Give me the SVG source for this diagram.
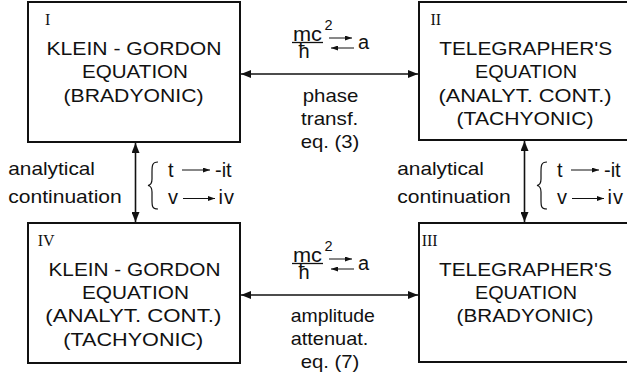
<svg xmlns="http://www.w3.org/2000/svg" width="627" height="381" viewBox="0 0 627 381">
<defs>
<style>
.box{fill:#fff;stroke:#111;stroke-width:2}
.t{font-family:"Liberation Sans",Arial,Helvetica,sans-serif;font-size:17.5px;fill:#111;text-anchor:middle}
.l{font-family:"Liberation Sans",Arial,Helvetica,sans-serif;font-size:18.5px;fill:#111}
.m{font-size:20px}
.c{text-anchor:middle}
.sup{font-size:14.5px}
.rn{font-family:"Liberation Serif","Times New Roman",serif;font-size:16px;fill:#111}
.conn{stroke:#111;stroke-width:1.6;fill:none}
.thin{stroke:#111;stroke-width:1;fill:none}
.bar{stroke:#111;stroke-width:1.3}
.brace{stroke:#111;stroke-width:1.2;fill:none}
</style>
<marker id="ah" viewBox="0 0 10 8" refX="10" refY="4" markerWidth="10" markerHeight="8" markerUnits="userSpaceOnUse" orient="auto-start-reverse"><path d="M0,0 L10,4 L0,8 z" fill="#111"/></marker>
<marker id="sa" viewBox="0 0 7 5" refX="7" refY="2.5" markerWidth="7" markerHeight="5" markerUnits="userSpaceOnUse" orient="auto"><path d="M0,0 L7,2.5 L0,5 z" fill="#111"/></marker>
</defs>
<rect width="627" height="381" fill="#fff"/>

<g id="node-I">
<rect class="box" x="28" y="2" width="212" height="140"/>
<text class="rn" x="45" y="25">I</text>
<text class="t" x="134" y="55" textLength="175" lengthAdjust="spacingAndGlyphs">KLEIN - GORDON</text>
<text class="t" x="135" y="78" textLength="106" lengthAdjust="spacingAndGlyphs">EQUATION</text>
<text class="t" x="133.5" y="101.5" textLength="140" lengthAdjust="spacingAndGlyphs">(BRADYONIC)</text>
</g>

<g id="node-II">
<rect class="box" x="419" y="2" width="214" height="138"/>
<text class="rn" x="430.5" y="25">II</text>
<text class="t" x="525.7" y="54.5" textLength="173" lengthAdjust="spacingAndGlyphs">TELEGRAPHER'S</text>
<text class="t" x="526" y="78" textLength="102" lengthAdjust="spacingAndGlyphs">EQUATION</text>
<text class="t" x="525" y="101.5" textLength="173" lengthAdjust="spacingAndGlyphs">(ANALYT. CONT.)</text>
<text class="t" x="525" y="125" textLength="137" lengthAdjust="spacingAndGlyphs">(TACHYONIC)</text>
</g>

<g id="node-IV">
<rect class="box" x="28" y="223" width="212" height="140"/>
<text class="rn" x="37.7" y="245.7">IV</text>
<text class="t" x="134.5" y="275.7" textLength="172" lengthAdjust="spacingAndGlyphs">KLEIN - GORDON</text>
<text class="t" x="135.5" y="299" textLength="107" lengthAdjust="spacingAndGlyphs">EQUATION</text>
<text class="t" x="133.3" y="322.3" textLength="176" lengthAdjust="spacingAndGlyphs">(ANALYT. CONT.)</text>
<text class="t" x="133.3" y="345.7" textLength="140" lengthAdjust="spacingAndGlyphs">(TACHYONIC)</text>
</g>

<g id="node-III">
<rect class="box" x="419" y="223" width="214" height="139"/>
<text class="rn" x="421.7" y="245.7">III</text>
<text class="t" x="525.5" y="275.7" textLength="173" lengthAdjust="spacingAndGlyphs">TELEGRAPHER'S</text>
<text class="t" x="526" y="299" textLength="102" lengthAdjust="spacingAndGlyphs">EQUATION</text>
<text class="t" x="525" y="322.3" textLength="137" lengthAdjust="spacingAndGlyphs">(BRADYONIC)</text>
</g>

<g id="connectors">
<line class="conn" x1="241" y1="74" x2="418" y2="74" marker-start="url(#ah)" marker-end="url(#ah)"/>
<line class="conn" x1="241" y1="295" x2="418" y2="295" marker-start="url(#ah)" marker-end="url(#ah)"/>
<line class="conn" x1="135.5" y1="143" x2="135.5" y2="222" marker-start="url(#ah)" marker-end="url(#ah)"/>
<line class="conn" x1="524.5" y1="141" x2="524.5" y2="222" marker-start="url(#ah)" marker-end="url(#ah)"/>
</g>

<g id="label-top">
<text class="l m" x="293" y="40.5" textLength="29" lengthAdjust="spacingAndGlyphs">mc</text>
<line class="bar" x1="292" y1="42.5" x2="323" y2="42.5"/>
<text class="l sup" x="324.5" y="30">2</text>
<text class="l m" x="298.5" y="58">ħ</text>
<line class="thin" x1="329" y1="38" x2="352" y2="38" marker-end="url(#sa)"/>
<line class="thin" x1="354" y1="48" x2="331" y2="48" marker-end="url(#sa)"/>
<text class="l m" x="358" y="48.5">a</text>
<text class="l c" x="330.5" y="101.5" textLength="55.6" lengthAdjust="spacingAndGlyphs">phase</text>
<text class="l c" x="329.7" y="125" textLength="57.3" lengthAdjust="spacingAndGlyphs">transf.</text>
<text class="l c" x="330" y="148.3" textLength="58.7" lengthAdjust="spacingAndGlyphs">eq. (3)</text>
</g>

<g id="label-bottom">
<text class="l m" x="293" y="261.5" textLength="29" lengthAdjust="spacingAndGlyphs">mc</text>
<line class="bar" x1="292" y1="263.5" x2="323" y2="263.5"/>
<text class="l sup" x="324.5" y="251">2</text>
<text class="l m" x="298.5" y="279">ħ</text>
<line class="thin" x1="329" y1="259" x2="352" y2="259" marker-end="url(#sa)"/>
<line class="thin" x1="354" y1="269" x2="331" y2="269" marker-end="url(#sa)"/>
<text class="l m" x="358" y="269.5">a</text>
<text class="l c" x="332.8" y="321.7" textLength="84.3" lengthAdjust="spacingAndGlyphs">amplitude</text>
<text class="l c" x="329.5" y="345" textLength="77.7" lengthAdjust="spacingAndGlyphs">attenuat.</text>
<text class="l c" x="330" y="368.3" textLength="58.7" lengthAdjust="spacingAndGlyphs">eq. (7)</text>
</g>

<g id="label-left">
<text class="l" x="8.3" y="175" textLength="86.7" lengthAdjust="spacingAndGlyphs">analytical</text>
<text class="l" x="8.3" y="203" textLength="113.4" lengthAdjust="spacingAndGlyphs">continuation</text>
<path class="brace" d="M158,162 C152,162 152,166 152,172 L152,179 C152,183 151,185 148,185.5 C151,186 152,188 152,192 L152,200 C152,206 152,209 158,209"/>
<text class="l m" x="168" y="176.5">t</text>
<line class="thin" x1="182" y1="170" x2="210" y2="170" marker-end="url(#sa)"/>
<text class="l m" x="215" y="176.5">-it</text>
<text class="l m" x="168" y="203.5">v</text>
<line class="thin" x1="183" y1="198.5" x2="215" y2="198.5" marker-end="url(#sa)"/>
<text class="l m" x="218.5" y="203.5" letter-spacing="1">iv</text>
</g>

<g id="label-right">
<text class="l" x="397.3" y="175" textLength="86.7" lengthAdjust="spacingAndGlyphs">analytical</text>
<text class="l" x="397.3" y="203" textLength="113.4" lengthAdjust="spacingAndGlyphs">continuation</text>
<path class="brace" d="M547,162 C541,162 541,166 541,172 L541,179 C541,183 540,185 537,185.5 C540,186 541,188 541,192 L541,200 C541,206 541,209 547,209"/>
<text class="l m" x="557" y="176.5">t</text>
<line class="thin" x1="571" y1="170" x2="599" y2="170" marker-end="url(#sa)"/>
<text class="l m" x="604" y="176.5">-it</text>
<text class="l m" x="557" y="203.5">v</text>
<line class="thin" x1="572" y1="198.5" x2="604" y2="198.5" marker-end="url(#sa)"/>
<text class="l m" x="607.5" y="203.5" letter-spacing="1">iv</text>
</g>
</svg>
